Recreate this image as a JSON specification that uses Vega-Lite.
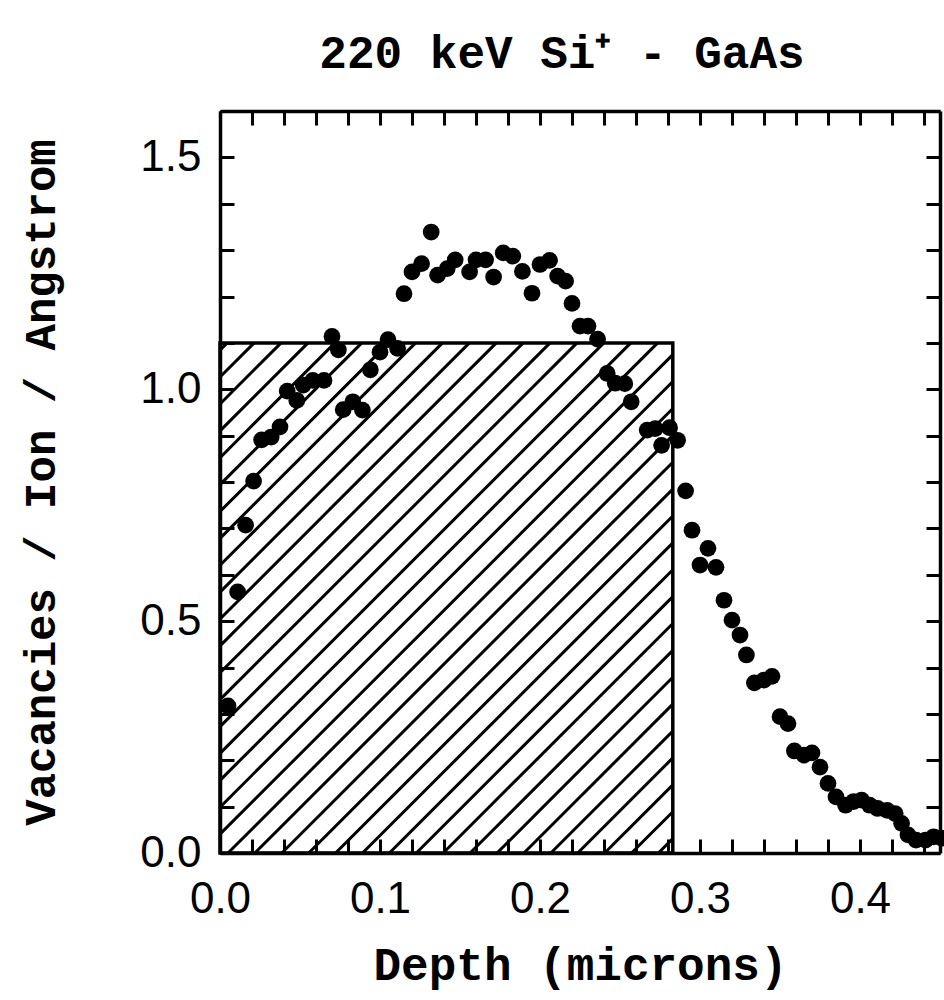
{
  "$schema": "https://vega.github.io/schema/vega-lite/v6.json",
  "width": 720,
  "height": 742,
  "autosize": "none",
  "padding": {"left": 220, "top": 111, "right": 4, "bottom": 147},
  "background": "white",
  "title": {
    "text": "220 keV Si⁺ - GaAs",
    "font": "Liberation Mono",
    "fontSize": 46,
    "fontWeight": "bold",
    "color": "black",
    "anchor": "middle",
    "dx": -18,
    "offset": -25,
    "baseline": "alphabetic"
  },
  "config": {
    "view": {"stroke": null},
    "axis": {
      "domainColor": "black",
      "domainWidth": 3.5,
      "tickColor": "black",
      "tickWidth": 3,
      "grid": false,
      "labelFont": "Liberation Sans",
      "labelFontSize": 44,
      "labelColor": "black",
      "labelOverlap": false,
      "labelBound": false,
      "labelFlush": false,
      "titleFont": "Liberation Mono",
      "titleFontSize": 46,
      "titleFontWeight": "bold",
      "titleColor": "black"
    }
  },
  "datasets": {
    "points": [
      {"depth": 0.005, "vac": 0.317},
      {"depth": 0.011, "vac": 0.563},
      {"depth": 0.016, "vac": 0.707},
      {"depth": 0.021, "vac": 0.802},
      {"depth": 0.026, "vac": 0.891},
      {"depth": 0.032, "vac": 0.897},
      {"depth": 0.0375, "vac": 0.919},
      {"depth": 0.042, "vac": 0.996},
      {"depth": 0.048, "vac": 0.976},
      {"depth": 0.052, "vac": 1.009},
      {"depth": 0.058, "vac": 1.019},
      {"depth": 0.065, "vac": 1.019},
      {"depth": 0.070, "vac": 1.114},
      {"depth": 0.074, "vac": 1.085},
      {"depth": 0.077, "vac": 0.956},
      {"depth": 0.083, "vac": 0.973},
      {"depth": 0.089, "vac": 0.955},
      {"depth": 0.094, "vac": 1.042},
      {"depth": 0.100, "vac": 1.080},
      {"depth": 0.105, "vac": 1.107},
      {"depth": 0.111, "vac": 1.088},
      {"depth": 0.115, "vac": 1.206},
      {"depth": 0.120, "vac": 1.253},
      {"depth": 0.126, "vac": 1.271},
      {"depth": 0.132, "vac": 1.339},
      {"depth": 0.136, "vac": 1.246},
      {"depth": 0.142, "vac": 1.260},
      {"depth": 0.147, "vac": 1.279},
      {"depth": 0.156, "vac": 1.253},
      {"depth": 0.160, "vac": 1.279},
      {"depth": 0.166, "vac": 1.279},
      {"depth": 0.171, "vac": 1.242},
      {"depth": 0.177, "vac": 1.294},
      {"depth": 0.183, "vac": 1.287},
      {"depth": 0.189, "vac": 1.254},
      {"depth": 0.195, "vac": 1.207},
      {"depth": 0.200, "vac": 1.269},
      {"depth": 0.206, "vac": 1.278},
      {"depth": 0.211, "vac": 1.244},
      {"depth": 0.216, "vac": 1.233},
      {"depth": 0.220, "vac": 1.185},
      {"depth": 0.225, "vac": 1.136},
      {"depth": 0.230, "vac": 1.136},
      {"depth": 0.236, "vac": 1.108},
      {"depth": 0.242, "vac": 1.034},
      {"depth": 0.247, "vac": 1.013},
      {"depth": 0.253, "vac": 1.012},
      {"depth": 0.257, "vac": 0.973},
      {"depth": 0.267, "vac": 0.912},
      {"depth": 0.272, "vac": 0.915},
      {"depth": 0.276, "vac": 0.879},
      {"depth": 0.281, "vac": 0.917},
      {"depth": 0.286, "vac": 0.890},
      {"depth": 0.291, "vac": 0.781},
      {"depth": 0.295, "vac": 0.696},
      {"depth": 0.300, "vac": 0.621},
      {"depth": 0.305, "vac": 0.657},
      {"depth": 0.310, "vac": 0.616},
      {"depth": 0.315, "vac": 0.545},
      {"depth": 0.320, "vac": 0.502},
      {"depth": 0.325, "vac": 0.470},
      {"depth": 0.329, "vac": 0.427},
      {"depth": 0.334, "vac": 0.367},
      {"depth": 0.340, "vac": 0.373},
      {"depth": 0.345, "vac": 0.381},
      {"depth": 0.350, "vac": 0.294},
      {"depth": 0.355, "vac": 0.279},
      {"depth": 0.359, "vac": 0.220},
      {"depth": 0.365, "vac": 0.211},
      {"depth": 0.370, "vac": 0.216},
      {"depth": 0.375, "vac": 0.185},
      {"depth": 0.380, "vac": 0.150},
      {"depth": 0.385, "vac": 0.121},
      {"depth": 0.391, "vac": 0.103},
      {"depth": 0.396, "vac": 0.111},
      {"depth": 0.401, "vac": 0.114},
      {"depth": 0.406, "vac": 0.103},
      {"depth": 0.411, "vac": 0.096},
      {"depth": 0.417, "vac": 0.092},
      {"depth": 0.422, "vac": 0.085},
      {"depth": 0.426, "vac": 0.064},
      {"depth": 0.430, "vac": 0.039},
      {"depth": 0.435, "vac": 0.028},
      {"depth": 0.441, "vac": 0.028},
      {"depth": 0.446, "vac": 0.035},
      {"depth": 0.451, "vac": 0.032}
    ],
    "box": [
      {"x0": 0, "x1": 0.283, "y0": 0, "y1": 1.1}
    ],
    "hatch": [
      {"xa": 0, "ya": 1.0843, "xb": 0.00456, "yb": 1.1},
      {"xa": 0, "ya": 1.0263, "xb": 0.02138, "yb": 1.1},
      {"xa": 0, "ya": 0.9683, "xb": 0.03819, "yb": 1.1},
      {"xa": 0, "ya": 0.9103, "xb": 0.0550, "yb": 1.1},
      {"xa": 0, "ya": 0.8524, "xb": 0.07181, "yb": 1.1},
      {"xa": 0, "ya": 0.7944, "xb": 0.08863, "yb": 1.1},
      {"xa": 0, "ya": 0.7364, "xb": 0.10544, "yb": 1.1},
      {"xa": 0, "ya": 0.6784, "xb": 0.12225, "yb": 1.1},
      {"xa": 0, "ya": 0.6205, "xb": 0.13906, "yb": 1.1},
      {"xa": 0, "ya": 0.5625, "xb": 0.15588, "yb": 1.1},
      {"xa": 0, "ya": 0.5045, "xb": 0.17269, "yb": 1.1},
      {"xa": 0, "ya": 0.4466, "xb": 0.1895, "yb": 1.1},
      {"xa": 0, "ya": 0.3886, "xb": 0.20631, "yb": 1.1},
      {"xa": 0, "ya": 0.3306, "xb": 0.22313, "yb": 1.1},
      {"xa": 0, "ya": 0.2726, "xb": 0.23994, "yb": 1.1},
      {"xa": 0, "ya": 0.2147, "xb": 0.25675, "yb": 1.1},
      {"xa": 0, "ya": 0.1567, "xb": 0.27356, "yb": 1.1},
      {"xa": 0, "ya": 0.0987, "xb": 0.283, "yb": 1.0746},
      {"xa": 0, "ya": 0.0407, "xb": 0.283, "yb": 1.0166},
      {"xa": 0.005, "ya": 0, "xb": 0.283, "yb": 0.9586},
      {"xa": 0.02181, "ya": 0, "xb": 0.283, "yb": 0.9006},
      {"xa": 0.03863, "ya": 0, "xb": 0.283, "yb": 0.8427},
      {"xa": 0.05544, "ya": 0, "xb": 0.283, "yb": 0.7847},
      {"xa": 0.07225, "ya": 0, "xb": 0.283, "yb": 0.7267},
      {"xa": 0.08906, "ya": 0, "xb": 0.283, "yb": 0.6688},
      {"xa": 0.10588, "ya": 0, "xb": 0.283, "yb": 0.6108},
      {"xa": 0.12269, "ya": 0, "xb": 0.283, "yb": 0.5528},
      {"xa": 0.1395, "ya": 0, "xb": 0.283, "yb": 0.4948},
      {"xa": 0.15631, "ya": 0, "xb": 0.283, "yb": 0.4369},
      {"xa": 0.17313, "ya": 0, "xb": 0.283, "yb": 0.3789},
      {"xa": 0.18994, "ya": 0, "xb": 0.283, "yb": 0.3209},
      {"xa": 0.20675, "ya": 0, "xb": 0.283, "yb": 0.2629},
      {"xa": 0.22356, "ya": 0, "xb": 0.283, "yb": 0.2050},
      {"xa": 0.24038, "ya": 0, "xb": 0.283, "yb": 0.1470},
      {"xa": 0.25719, "ya": 0, "xb": 0.283, "yb": 0.0890},
      {"xa": 0.274, "ya": 0, "xb": 0.283, "yb": 0.0310}
    ]
  },
  "layer": [
    {
      "data": {"name": "hatch"},
      "mark": {"type": "rule", "color": "black", "strokeWidth": 3},
      "encoding": {
        "x": {
          "field": "xa", "type": "quantitative",
          "scale": {"domain": [0, 0.45], "nice": false, "zero": false},
          "axis": {
            "orient": "top", "title": null, "labels": false,
            "values": [0, 0.02, 0.04, 0.06, 0.08, 0.1, 0.12, 0.14, 0.16, 0.18, 0.2, 0.22, 0.24, 0.26, 0.28, 0.3, 0.32, 0.34, 0.36, 0.38, 0.4, 0.42, 0.44],
            "tickSize": -14,
            "encode": {"ticks": {"update": {"y2": {"signal": "abs(datum.value*10-round(datum.value*10))<1e-6 ? 14 : 7"}}}}
          }
        },
        "x2": {"field": "xb"},
        "y": {
          "field": "ya", "type": "quantitative",
          "scale": {"domain": [0, 1.6], "nice": false, "zero": false},
          "axis": {
            "orient": "right", "title": null, "labels": false,
            "values": [0, 0.1, 0.2, 0.3, 0.4, 0.5, 0.6, 0.7, 0.8, 0.9, 1.0, 1.1, 1.2, 1.3, 1.4, 1.5, 1.6],
            "tickSize": -14,
            "encode": {"ticks": {"update": {"x2": {"signal": "abs(datum.value*2-round(datum.value*2))<1e-6 ? -14 : -7"}}}}
          }
        },
        "y2": {"field": "yb"}
      }
    },
    {
      "data": {"name": "box"},
      "mark": {"type": "rect", "fill": null, "fillOpacity": 0, "stroke": "black", "strokeWidth": 3.5},
      "encoding": {
        "x": {"field": "x0", "type": "quantitative", "scale": {"domain": [0, 0.45], "nice": false, "zero": false}, "axis": null},
        "x2": {"field": "x1"},
        "y": {"field": "y0", "type": "quantitative", "scale": {"domain": [0, 1.6], "nice": false, "zero": false}, "axis": null},
        "y2": {"field": "y1"}
      }
    },
    {
      "data": {"name": "points"},
      "mark": {"type": "circle", "color": "black", "opacity": 1, "size": 280, "clip": false},
      "encoding": {
        "x": {
          "field": "depth", "type": "quantitative",
          "scale": {"domain": [0, 0.45], "nice": false, "zero": false},
          "axis": {
            "orient": "bottom",
            "title": "Depth (microns)",
            "titlePadding": 22,
            "values": [0, 0.02, 0.04, 0.06, 0.08, 0.1, 0.12, 0.14, 0.16, 0.18, 0.2, 0.22, 0.24, 0.26, 0.28, 0.3, 0.32, 0.34, 0.36, 0.38, 0.4, 0.42, 0.44],
            "labelExpr": "abs(datum.value*10-round(datum.value*10))<1e-6 ? format(datum.value, '.1f') : ''",
            "tickSize": -14,
            "labelPadding": 38,
            "encode": {"ticks": {"update": {"y2": {"signal": "abs(datum.value*10-round(datum.value*10))<1e-6 ? -14 : -7"}}}}
          }
        },
        "y": {
          "field": "vac", "type": "quantitative",
          "scale": {"domain": [0, 1.6], "nice": false, "zero": false},
          "axis": {
            "orient": "left",
            "title": "Vacancies / Ion / Angstrom",
            "titleFontSize": 44,
            "titlePadding": 76,
            "values": [0, 0.1, 0.2, 0.3, 0.4, 0.5, 0.6, 0.7, 0.8, 0.9, 1.0, 1.1, 1.2, 1.3, 1.4, 1.5, 1.6],
            "labelExpr": "abs(datum.value*2-round(datum.value*2))<1e-6 ? format(datum.value, '.1f') : ''",
            "tickSize": -14,
            "labelPadding": 33,
            "encode": {"ticks": {"update": {"x2": {"signal": "abs(datum.value*2-round(datum.value*2))<1e-6 ? 14 : 7"}}}}
          }
        }
      }
    }
  ],
  "resolve": {"axis": {"x": "independent", "y": "independent"}}
}
